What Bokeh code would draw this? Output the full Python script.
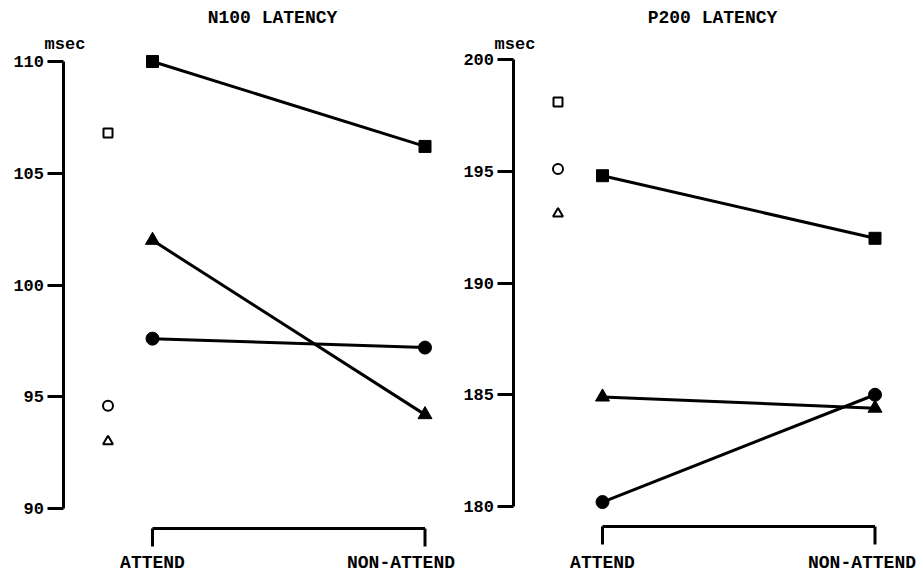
from bokeh.plotting import figure
from bokeh.layouts import row
from bokeh.models import LinearAxis, FixedTicker, Range1d
from bokeh.core.properties import value
from bokeh.embed import file_html
from bokeh.resources import INLINE

# ---------------- data ----------------
conditions = ["ATTEND", "NON-ATTEND"]
cond_x = [0, 1]

n100_title = "N100 LATENCY"
n100_ticks = [90, 95, 100, 105, 110]
n100_square = [110.0, 106.2]
n100_triangle = [102.0, 94.2]
n100_circle = [97.6, 97.2]
n100_open_square = 106.8
n100_open_circle = 94.6
n100_open_triangle = 93.0

p200_title = "P200 LATENCY"
p200_ticks = [180, 185, 190, 195, 200]
p200_square = [194.8, 192.0]
p200_triangle = [184.9, 184.4]
p200_circle = [180.2, 185.0]
p200_open_square = 198.1
p200_open_circle = 195.1
p200_open_triangle = 193.1

unit_label = "msec"

FONT = value("Liberation Mono")
H = 571
PX_PER_X = 272.5
PX_PER_Y = 22.35


def panel(width, attend_px, ytop_px, ybot_px, ticks, title, title_px,
          sq, tri, cir, osq, ocir, otri, nonatt_off):
    lo, hi = ticks[0], ticks[-1]
    y_top = hi + ytop_px / PX_PER_Y
    y_bot = lo - (H - ybot_px) / PX_PER_Y
    x_start = -attend_px / PX_PER_X
    x_end = (width - attend_px) / PX_PER_X
    p = figure(width=width, height=H, output_backend="svg", toolbar_location=None,
               x_range=Range1d(x_start, x_end), y_range=Range1d(y_bot, y_top),
               x_axis_location=None, y_axis_location=None, min_border=0,
               outline_line_color=None, background_fill_color="white",
               border_fill_color="white")
    p.grid.visible = False

    def ypx(px):  # pixel row -> data y
        return y_top - px / PX_PER_Y

    axis_x = -89.5 / PX_PER_X
    ax = LinearAxis(fixed_location=axis_x, bounds=(lo, hi),
                    ticker=FixedTicker(ticks=ticks))
    ax.axis_line_width = 3
    ax.axis_line_color = "black"
    ax.major_tick_line_width = 3
    ax.major_tick_line_color = "black"
    ax.major_tick_out = 16
    ax.major_tick_in = 0
    ax.minor_tick_out = 0
    ax.minor_tick_in = 0
    ax.major_label_standoff = 3
    ax.major_label_text_font = "Liberation Mono"
    ax.major_label_text_font_style = "bold"
    ax.major_label_text_font_size = "17px"
    ax.major_label_text_color = "black"
    p.add_layout(ax, "left")

    # unit label
    p.text(x=[axis_x], y=[ypx(44)], text=[unit_label], text_font=FONT,
           text_font_style="bold", text_font_size="17px", text_align="center",
           text_baseline="middle", x_offset=2, text_color="black")
    # title
    p.text(x=[(title_px - attend_px) / PX_PER_X], y=[ypx(17)], text=[title],
           text_font=FONT, text_font_style="bold", text_font_size="18px",
           text_align="center", text_baseline="middle", text_color="black")

    # lines with filled markers
    for vals in (sq, tri, cir):
        p.line(cond_x, vals, line_color="black", line_width=3)
    p.scatter(cond_x, sq, marker="square", size=12, color="black")
    p.scatter(cond_x, tri, marker="triangle", size=14, color="black")
    p.scatter(cond_x, cir, marker="circle", size=13, color="black")

    # open markers
    ox = -44.5 / PX_PER_X
    p.scatter([ox], [osq], marker="square", size=9, fill_color="white",
              line_color="black", line_width=2)
    p.scatter([ox], [ocir], marker="circle", size=10, fill_color="white",
              line_color="black", line_width=2)
    p.scatter([ox], [otri], marker="triangle", size=10, fill_color="white",
              line_color="black", line_width=2)

    # bracket under the conditions
    yb = lo - 20 / PX_PER_Y
    yt = lo - 38 / PX_PER_Y
    p.segment(x0=[cond_x[0]], y0=[yb], x1=[cond_x[1]], y1=[yb],
              line_color="black", line_width=3)
    p.segment(x0=cond_x, y0=[yb, yb], x1=cond_x, y1=[yt, yt],
              line_color="black", line_width=3)

    # condition labels
    p.text(x=[cond_x[0]], y=[ypx(562)], text=[conditions[0]], text_font=FONT,
           text_font_style="bold", text_font_size="18px", text_align="center",
           text_baseline="middle", text_color="black")
    p.text(x=[cond_x[1]], y=[ypx(562)], text=[conditions[1]], text_font=FONT,
           text_font_style="bold", text_font_size="18px", text_align="center",
           text_baseline="middle", x_offset=nonatt_off, text_color="black")
    return p


p1 = panel(462, 152, 61, 508, n100_ticks, n100_title, 272,
           n100_square, n100_triangle, n100_circle,
           n100_open_square, n100_open_circle, n100_open_triangle, -24)
p2 = panel(461, 140, 59, 506, p200_ticks, p200_title, 250,
           p200_square, p200_triangle, p200_circle,
           p200_open_square, p200_open_circle, p200_open_triangle, -13)

layout = row(p1, p2)
open("out.html", "w").write(file_html(layout, INLINE))
